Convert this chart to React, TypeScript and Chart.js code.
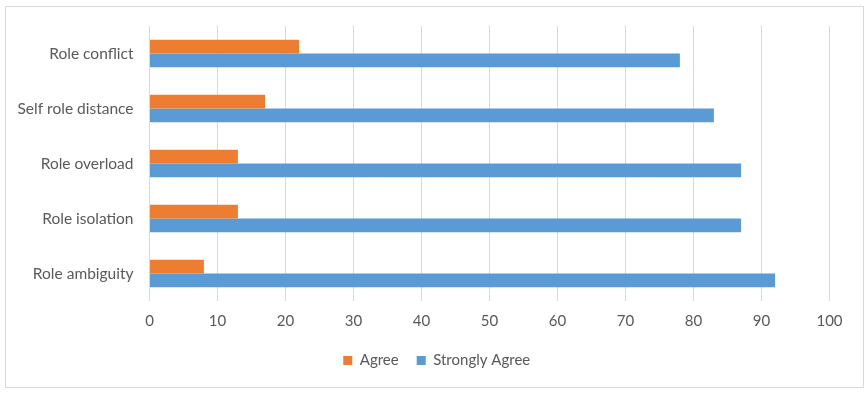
import React, { useEffect, useRef } from "react";
import { Chart, registerables } from "chart.js";

Chart.register(...registerables);

const categories = ["Role conflict", "Self role distance", "Role overload", "Role isolation", "Role ambiguity"];
const agree = [22, 17, 13, 13, 8];
const stronglyAgree = [78, 83, 87, 87, 92];
const xTicks = [0, 10, 20, 30, 40, 50, 60, 70, 80, 90, 100];

const FONT = "Lato, 'Open Sans', sans-serif";
const TEXT = "#595959";

const legendShift = {
  id: "legendShift",
  afterLayout(chart: any) {
    const lg = chart.legend;
    if (lg) {
      lg.left += 22;
      lg.right += 22;
    }
  },
};

export default function App() {
  const ref = useRef<HTMLCanvasElement | null>(null);
  useEffect(() => {
    if (!ref.current) return;
    const chart = new Chart(ref.current, {
      type: "bar",
      data: {
        labels: categories,
        datasets: [
          { label: "Agree", data: agree, backgroundColor: "#ED7D31", borderWidth: 0 },
          { label: "Strongly Agree", data: stronglyAgree, backgroundColor: "#5B9BD5", borderWidth: 0 },
        ],
      },
      options: {
        indexAxis: "y",
        animation: false,
        responsive: false,
        maintainAspectRatio: false,
        datasets: { bar: { categoryPercentage: 0.5, barPercentage: 1 } },
        layout: { padding: { left: 0, right: 38.5, top: 26, bottom: 15 } },
        scales: {
          x: {
            min: 0,
            max: 100,
            afterBuildTicks: (s: any) => {
              s.ticks = xTicks.map((v) => ({ value: v }));
            },
            grid: { color: "#d9d9d9", drawTicks: false, lineWidth: 1 },
            border: { display: false },
            ticks: { color: TEXT, font: { family: FONT, size: 15 }, padding: 11 },
            afterFit: (s: any) => {
              s.height = 34;
            },
          },
          y: {
            grid: { display: false, drawTicks: false },
            border: { display: false },
            ticks: { color: TEXT, font: { family: FONT, size: 15.5 }, padding: 16 },
            afterFit: (s: any) => {
              s.width = 149.5;
            },
          },
        },
        plugins: {
          legend: {
            position: "bottom",
            labels: {
              color: TEXT,
              font: { family: FONT, size: 15 },
              boxWidth: 9,
              boxHeight: 9,
              padding: 18,
            },
          },
          tooltip: { enabled: false },
        },
      },
      plugins: [legendShift],
    });
    return () => chart.destroy();
  }, []);
  return (
    <div style={{ position: "fixed", left: 0, top: 0, width: 868, height: 393, background: "#fff" }}>
      <div
        style={{
          position: "absolute",
          left: 5,
          top: 6,
          width: 857,
          height: 380,
          border: "1px solid #d9d9d9",
        }}
      />
      <canvas ref={ref} width={868} height={393} style={{ position: "absolute", left: 0, top: 0 }} />
    </div>
  );
}
